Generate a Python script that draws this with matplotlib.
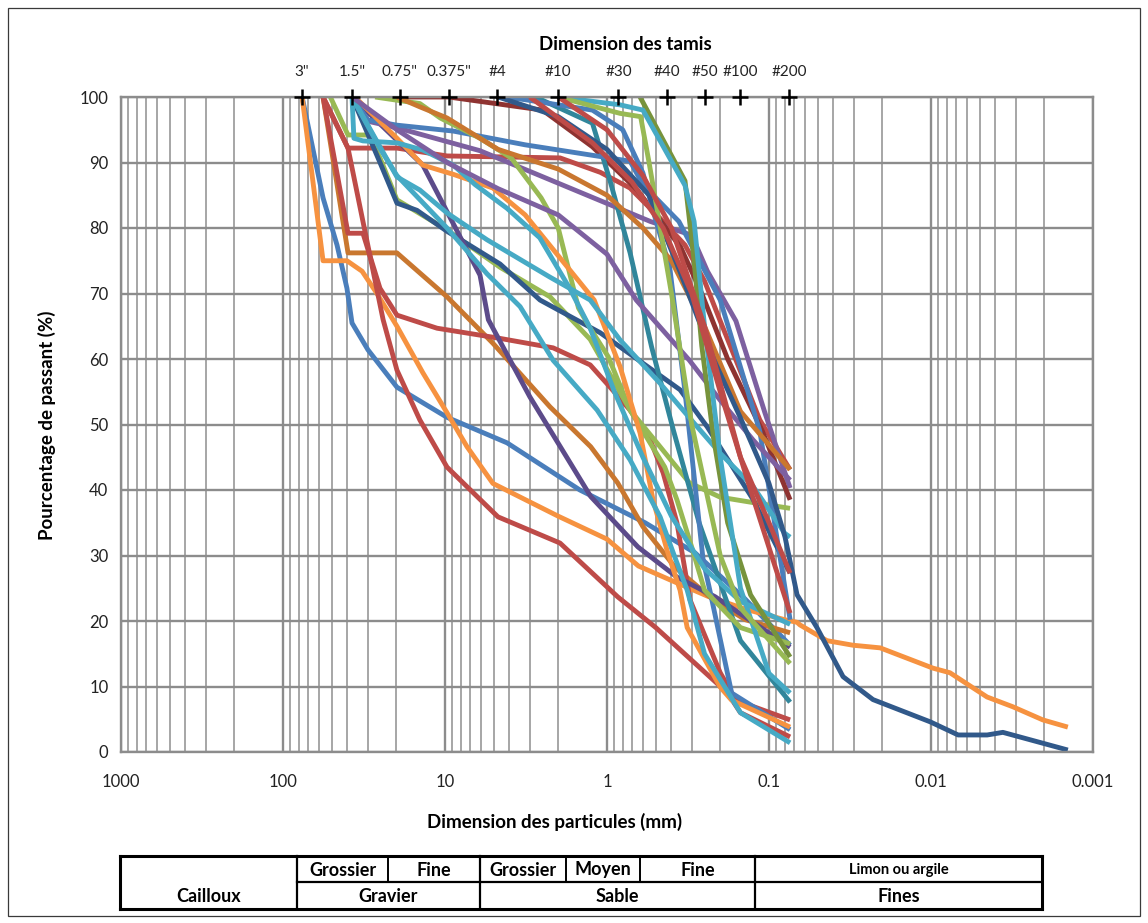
import matplotlib
matplotlib.use('Agg')
import matplotlib.pyplot as plt
from matplotlib.lines import Line2D
from matplotlib.patches import Rectangle
from matplotlib.transforms import blended_transform_factory
from matplotlib.ticker import LogLocator, NullFormatter, FixedLocator, FixedFormatter

# Excel-like palette
BLUE = '#4A7EBB'
RED = '#BE4B48'
GREEN = '#98B954'
PURPLE = '#7D60A0'
AQUA = '#46AAC5'
ORANGE = '#F69240'
DBLUE = '#31598A'
DRED = '#8E3331'
DGREEN = '#77933C'
DPURPLE = '#5C4B8A'
TEAL = '#31869B'
DORANGE = '#C9772F'

# Sieve sizes (mm) shown on top
sieve_mm = [76.2, 37.5, 19.0, 9.5, 4.75, 2.0, 0.85, 0.425, 0.25, 0.15, 0.075]
sieve_labels = ['3"', '1.5"', '0.75"', '0.375"', '#4', '#10', '#30', '#40', '#50', '#100', '#200']

x_ticks = [1000, 100, 10, 1, 0.1, 0.01, 0.001]
x_tick_labels = ['1000', '100', '10', '1', '0.1', '0.01', '0.001']
y_ticks = [0, 10, 20, 30, 40, 50, 60, 70, 80, 90, 100]

# Grain size curves: diameter (mm) / percent passing
a_mm = [76.2, 56.6, 46.4, 40.3, 37.5, 29.9, 19.8, 9.72, 4.14, 1.47, 0.582, 0.286, 0.141, 0.0741]
a_pct = [100, 84.6, 77.4, 70.8, 65.5, 61.4, 55.7, 51.1, 47.2, 40.0, 35.0, 30.4, 23.4, 16.3]

b_mm = [76.2, 56.6, 40.3, 32.5, 26.3, 19.8, 13.7, 9.72, 7.31, 5.06, 2.0, 1.0, 0.64, 0.41, 0.24,
        0.14, 0.08, 0.0671, 0.0644, 0.0439, 0.0303, 0.0206, 0.00972, 0.00764, 0.00451, 0.00312,
        0.00204, 0.00143]
b_pct = [100, 75.0, 75.0, 73.4, 70, 65, 57.9, 51.8, 46.6, 41, 36, 32.5, 28.4, 26.3, 23.8,
         21.8, 20.2, 19.8, 19.4, 17.0, 16.3, 15.9, 12.8, 12.1, 8.4, 6.9, 4.9, 3.8]

d_mm = [56.6, 39.7, 19.8, 9.72, 5.06, 2.25, 1.26, 0.86, 0.6, 0.38, 0.22, 0.14, 0.0741]
d_pct = [100, 76.2, 76.2, 69.5, 62.4, 52.7, 46.6, 41.1, 34.4, 28.2, 23.2, 20.2, 18.2]

e_mm = [56.6, 39.7, 32.1, 25.2, 19.8, 11.2, 4.71, 2.15, 1.27, 0.957, 0.721, 0.54, 0.45, 0.37,
        0.307, 0.2, 0.16, 0.0741]
e_pct = [100, 79.2, 79.2, 70.8, 66.7, 64.7, 63.2, 61.7, 59.1, 55.7, 52.2, 47.6, 42.6, 35.0,
         23.2, 12.1, 7.9, 4.9]

f_mm = [56.6, 39.7, 32.1, 24.1, 19.8, 14.3, 9.72, 7.31, 4.71, 1.95, 0.86, 0.5, 0.3, 0.18, 0.15, 0.0741]
f_pct = [100, 92.2, 81, 66, 58.3, 50.7, 43.5, 40.5, 35.9, 31.9, 23.7, 19.0, 14.0, 9.0, 6.0, 2.3]

g_mm = [56.6, 39.7, 19.8, 9.72, 1.95, 1.1, 0.721, 0.471, 0.33, 0.25, 0.2, 0.151, 0.114, 0.0741]
g_pct = [100, 92.2, 92.2, 91.0, 90.7, 88.5, 86.1, 81.5, 77.4, 71.9, 65.8, 58.3, 50.7, 43.1]

h_mm = [51, 39.7, 29.9, 25.2, 19.8, 9.72, 4.57, 2.25, 1.27, 0.72, 0.47, 0.31, 0.2, 0.12, 0.0741]
h_pct = [100, 94.2, 94.2, 90.7, 84.3, 79.7, 74.0, 69.5, 63, 52.2, 46.6, 41.1, 38.9, 38.0, 37.2]

q_mm = [37.5, 25.2, 19.8, 14.9, 9.72, 4.57, 2.59, 1.1, 0.354, 0.24, 0.125, 0.0741]
q_pct = [100, 90, 83.8, 82.7, 79.5, 74.5, 69, 64, 55.3, 49.6, 38.5, 27.3]

r_mm = [37.5, 13.7, 6.08, 5.4, 2.99, 1.26, 0.644, 0.37, 0.215, 0.0741]
r_pct = [100, 89.6, 72.8, 66, 54.2, 39, 31.3, 26.7, 23.7, 16]

s_mm = [37.5, 29.9, 19.8, 6.08, 0.54, 0.3, 0.24, 0.16, 0.106, 0.0741]
s_pct = [100, 96.3, 95.3, 91.8, 81, 78.9, 73.4, 65.8, 51.8, 40.3]

i_mm = [19.0, 9.5, 2.5, 1.23, 0.65, 0.35, 0.26, 0.18, 0.11, 0.0741]
i_pct = [100, 100, 98, 92.4, 85.8, 77, 70, 60, 49, 38.5]

l_mm = [4.71, 2.5, 1.23, 0.96, 0.72, 0.53, 0.39, 0.27, 0.15, 0.0741]
l_pct = [100, 99.5, 96, 87.3, 76.2, 61.8, 49.2, 35, 17, 7.6]

m_mm = [4.1, 1.23, 0.8, 0.6, 0.5, 0.41, 0.33, 0.255, 0.23, 0.17, 0.0741]
m_pct = [100, 98, 95, 88.4, 81.2, 74, 55, 29.3, 24.3, 9, 3.4]

t_mm = [37.5, 30, 19.8, 8.9, 3.2, 1.23, 0.72, 0.6, 0.36, 0.2, 0.114, 0.0741]
t_pct = [100, 96.5, 95.7, 94.8, 92.7, 91.1, 90.2, 86.6, 81, 69, 49, 20.2]

u_mm = [27, 14.3, 10.7, 6.08, 3.9, 2.55, 2.0, 1.69, 1.5, 1.27, 0.98, 0.72, 0.44, 0.37, 0.3,
        0.25, 0.15, 0.0741]
u_pct = [100, 99, 96.8, 93.7, 90.7, 84.6, 80, 72.8, 67.8, 64.7, 60.3, 52.2, 43.5, 38.5, 31.3,
         24.7, 19, 16.5]

v_mm = [19.8, 14.3, 9.72, 4.7, 2.0, 1.0, 0.6, 0.4, 0.25, 0.15, 0.0741]
v_pct = [100, 98.5, 96.8, 92, 89, 85, 80, 75, 65, 52, 43.1]

w_mm = [36, 19.8, 13.7, 8.9, 5.06, 3.2, 1.2, 0.83, 0.625, 0.52, 0.426, 0.354, 0.32, 0.2, 0.17, 0.0741]
w_pct = [100, 93.7, 89.6, 88.2, 86.1, 82, 69, 58.8, 48.7, 38.5, 30.8, 24.7, 19, 9.9, 7.9, 3.8]

j_mm = [37.5, 36.5, 32.1, 19.8, 13.7, 8.9, 6.5, 4.14, 2.6, 1.7, 1.27, 0.9, 0.6, 0.4, 0.25, 0.15, 0.0741]
j_pct = [100, 93.7, 93.3, 93.0, 91.9, 89.6, 86.6, 83, 78.5, 70.8, 64.7, 55, 45, 36, 28, 23, 19.5]

k_mm = [37.5, 19.8, 14.3, 9.72, 5.5, 2.25, 1.27, 0.83, 0.471, 0.29, 0.2, 0.125, 0.08, 0.0741]
k_pct = [100, 87.8, 85.8, 82.3, 78.2, 72.5, 69, 62.9, 56.3, 50.2, 45.6, 40.5, 33.4, 32.8]

z_mm = [37.5, 25, 19.8, 9.72, 5.5, 3.44, 2.15, 1.15, 0.72, 0.47, 0.39, 0.32, 0.25, 0.15, 0.0741]
z_pct = [100, 92, 88, 80, 73, 68, 59.8, 52.2, 44.6, 35.9, 30.4, 24.7, 15, 6, 1.4]

ab_mm = [37.5, 19.8, 9.72, 4.7, 2.0, 1.0, 0.66, 0.31, 0.2, 0.125, 0.0741]
ab_pct = [100, 95, 90, 86, 82, 76, 69, 59.8, 53.7, 47.6, 41.5]

ac_mm = [4.7, 2.0, 1.0, 0.55, 0.35, 0.22, 0.15, 0.1, 0.0796, 0.0671, 0.0506, 0.0349, 0.0228,
         0.0101, 0.0068, 0.0045, 0.0036, 0.00143]
ac_pct = [100, 97, 92, 85, 73, 60, 51, 41, 32.8, 24, 19, 11.5, 8, 4.6, 2.6, 2.6, 3.0, 0.3]

n_mm = [0.625, 0.33, 0.29, 0.26, 0.22, 0.18, 0.13, 0.0741]
n_pct = [100, 87.2, 75, 62, 48, 35, 24, 14.5]

o_mm = [2.0, 0.83, 0.6, 0.33, 0.29, 0.25, 0.2, 0.15, 0.1, 0.0741]
o_pct = [100, 98.8, 98, 86.5, 81, 65, 45, 25, 12, 9]

ad_mm = [2.0, 0.83, 0.62, 0.55, 0.4, 0.3, 0.2, 0.15, 0.0741]
ad_pct = [100, 97.5, 97, 90, 70, 50, 30, 22, 13.5]

ae_mm = [2.0, 1.0, 0.6, 0.4, 0.25, 0.15, 0.1, 0.0741]
ae_pct = [100, 95, 88, 80, 65, 45, 35, 27.3]

y_mm = [3.0, 1.23, 0.7, 0.45, 0.3, 0.2, 0.13, 0.0741]
y_pct = [100, 93, 87, 80, 70, 55, 40, 21.2]

curves = [
    (a_mm, a_pct, BLUE), (b_mm, b_pct, ORANGE), (d_mm, d_pct, DORANGE), (e_mm, e_pct, RED),
    (f_mm, f_pct, RED), (g_mm, g_pct, RED), (h_mm, h_pct, GREEN), (q_mm, q_pct, DBLUE),
    (r_mm, r_pct, DPURPLE), (s_mm, s_pct, PURPLE), (i_mm, i_pct, DRED), (l_mm, l_pct, TEAL),
    (m_mm, m_pct, BLUE), (t_mm, t_pct, BLUE), (u_mm, u_pct, GREEN), (v_mm, v_pct, DORANGE),
    (w_mm, w_pct, ORANGE), (j_mm, j_pct, AQUA), (k_mm, k_pct, AQUA), (z_mm, z_pct, AQUA),
    (ab_mm, ab_pct, PURPLE), (ac_mm, ac_pct, DBLUE), (n_mm, n_pct, DGREEN), (o_mm, o_pct, AQUA),
    (ad_mm, ad_pct, GREEN), (ae_mm, ae_pct, RED), (y_mm, y_pct, RED),
]

W, H = 1148, 923
fig = plt.figure(figsize=(W / 100, H / 100), dpi=100)
fig.patch.set_facecolor('white')


def fx(px):
    return px / W


def fy(py):
    return 1 - py / H


# thin frame around the whole picture
fig.add_artist(Rectangle((fx(8), fy(916)), fx(1140) - fx(8), fy(8) - fy(916),
                         fill=False, edgecolor='#3a3a3a', linewidth=0.9))

ax = fig.add_axes([fx(121), fy(752), fx(1093) - fx(121), fy(97) - fy(752)])
ax.set_xscale('log')
ax.set_xlim(1000, 0.001)
ax.set_ylim(0, 100)

GRID = '#a6a6a6'
ax.xaxis.set_major_locator(FixedLocator(x_ticks))
ax.xaxis.set_major_formatter(FixedFormatter(x_tick_labels))
ax.xaxis.set_minor_locator(LogLocator(base=10, subs=range(2, 10), numticks=20))
ax.xaxis.set_minor_formatter(NullFormatter())
ax.set_yticks(y_ticks)
ax.grid(True, which='major', axis='both', color='#8c8c8c', linewidth=1.7)
ax.grid(True, which='minor', axis='x', color=GRID, linewidth=1.4)
ax.set_axisbelow(True)
ax.tick_params(which='both', length=0, labelsize=12, colors='#222222')
ax.tick_params(axis='x', pad=16)
ax.tick_params(axis='y', pad=9)
for sp in ax.spines.values():
    sp.set_color('#8c8c8c')
    sp.set_linewidth(1.7)

for xs, ys, c in curves:
    ax.plot(xs, ys, color=c, linewidth=3.5, solid_joinstyle='round', solid_capstyle='butt')

# sieve markers on the 100 % line
ax.plot(sieve_mm, [100] * len(sieve_mm), linestyle='none', marker='+', markersize=11,
        markeredgewidth=1.8, color='black', clip_on=False, zorder=5)
tr = blended_transform_factory(ax.transData, fig.transFigure)
for xm, lab in zip(sieve_mm, sieve_labels):
    ax.text(xm, fy(72), lab, transform=tr, ha='center', va='center', fontsize=11,
            color='#222222', family='Lato')

fig.text(fx(625), fy(45), 'Dimension des tamis', ha='center', va='center', fontsize=13.5,
         fontweight='bold', family='Lato')
fig.text(fx(555), fy(822), 'Dimension des particules (mm)', ha='center', va='center',
         fontsize=13.5, fontweight='bold', family='Lato')
fig.text(fx(47), fy(425), 'Pourcentage de passant (%)', ha='center', va='center',
         fontsize=13.5, fontweight='bold', family='Lato', rotation=90)

for lbl in ax.get_xticklabels() + ax.get_yticklabels():
    lbl.set_family('Lato')

# classification table under the chart
tfont = ['Liberation Sans Narrow', 'Lato']
t_top, t_mid, t_bot = 856, 882, 909
t_left, t_right = 120, 1042


def hline(x0, x1, y, lw):
    fig.add_artist(Line2D([fx(x0), fx(x1)], [fy(y), fy(y)], color='black', linewidth=lw))


def vline(x, y0, y1, lw):
    fig.add_artist(Line2D([fx(x), fx(x)], [fy(y0), fy(y1)], color='black', linewidth=lw))


hline(t_left, t_right, t_top, 2.2)
hline(t_left, t_right, t_bot, 2.2)
hline(297, t_right, t_mid, 1.6)
vline(t_left, t_top, t_bot, 2.2)
vline(t_right, t_top, t_bot, 2.2)
for xv in [297, 480, 755]:
    vline(xv, t_top, t_bot, 1.6)
for xv in [388, 566, 640]:
    vline(xv, t_top, t_mid, 1.4)

top_cells = [('Grossier', 297, 388), ('Fine', 388, 480), ('Grossier', 480, 566),
             ('Moyen', 566, 640), ('Fine', 640, 755)]
for txt, x0, x1 in top_cells:
    fig.text(fx((x0 + x1) / 2), fy((t_top + t_mid) / 2 + 1), txt, ha='center', va='center',
             fontsize=13, fontweight='bold', family=tfont)
fig.text(fx((755 + t_right) / 2), fy((t_top + t_mid) / 2 + 1), 'Limon ou argile', ha='center',
         va='center', fontsize=10.5, fontweight='bold', family=tfont)
bot_cells = [('Cailloux', t_left, 297), ('Gravier', 297, 480), ('Sable', 480, 755),
             ('Fines', 755, t_right)]
for txt, x0, x1 in bot_cells:
    fig.text(fx((x0 + x1) / 2), fy((t_mid + t_bot) / 2 + 1), txt, ha='center', va='center',
             fontsize=13, fontweight='bold', family=tfont)

fig.savefig('out.png', dpi=100, facecolor='white')
